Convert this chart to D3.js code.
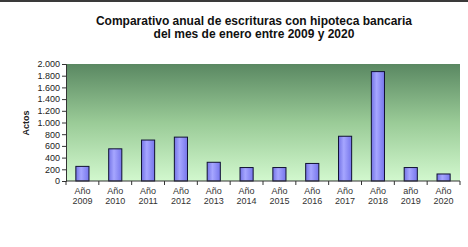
<!DOCTYPE html>
<html><head><meta charset="utf-8">
<script src="https://cdn.jsdelivr.net/npm/d3@7"></script>
<style>html,body{margin:0;padding:0;background:#fff;}svg{display:block;}</style>
</head><body>
<script>
const years = ["2009","2010","2011","2012","2013","2014","2015","2016","2017","2018","2019","2020"];
const prefixes = ["Año","Año","Año","Año","Año","Año","Año","Año","Año","Año","año","Año"];
const values = [250, 550, 700, 750, 320, 230, 230, 300, 765, 1870, 230, 120];
const yTicks = [0,200,400,600,800,1000,1200,1400,1600,1800,2000];
const titleLines = ["Comparativo anual de escrituras con hipoteca bancaria","del mes de enero entre 2009 y 2020"];
const yLabel = "Actos";

const W = 468, H = 247;
const m = {left:66, right:8, top:64, bottom:66};
const svg = d3.select("body").append("svg").attr("width",W).attr("height",H);
const defs = svg.append("defs");
const bg = defs.append("linearGradient").attr("id","bg").attr("x1",0).attr("y1",0).attr("x2",0).attr("y2",1);
bg.append("stop").attr("offset","0%").attr("stop-color","#5a8862");
bg.append("stop").attr("offset","50%").attr("stop-color","#9acb97");
bg.append("stop").attr("offset","100%").attr("stop-color","#d2f8ce");
const bar = defs.append("linearGradient").attr("id","bar").attr("x1",0).attr("y1",0).attr("x2",1).attr("y2",0);
bar.append("stop").attr("offset","0%").attr("stop-color","#7474e6");
bar.append("stop").attr("offset","40%").attr("stop-color","#a6a6ff");
bar.append("stop").attr("offset","100%").attr("stop-color","#7676ec");

svg.append("rect").attr("x",0).attr("y",0).attr("width",W).attr("height",2).attr("fill","#3a3a3a");

const x = d3.scaleBand().domain(years).range([m.left, W-m.right]).paddingInner(0.6).paddingOuter(0.3);
const y = d3.scaleLinear().domain([0,2000]).range([H-m.bottom, m.top]);

svg.append("rect").attr("x",m.left).attr("y",m.top).attr("width",W-m.right-m.left).attr("height",H-m.bottom-m.top).attr("fill","url(#bg)");

svg.selectAll("rect.b").data(values).join("rect").attr("class","b")
  .attr("x",(d,i)=>x(years[i])).attr("width",x.bandwidth())
  .attr("y",d=>y(d)).attr("height",d=>y(0)-y(d))
  .attr("fill","url(#bar)").attr("stroke","#111133").attr("stroke-width",1);

const fmt = d3.formatLocale({decimal:",",thousands:".",grouping:[3],currency:["","€"]}).format(",d");
const ya = svg.append("g").attr("transform",`translate(${m.left},0)`)
  .call(d3.axisLeft(y).tickValues(yTicks).tickFormat(fmt).tickSize(4).tickPadding(2));
ya.selectAll("text").attr("font-family","Liberation Sans, Arial, sans-serif").attr("font-size",9).attr("fill","#222");
ya.selectAll("line,path").attr("stroke","#333");

const bounds = d3.range(years.length+1).map(i => m.left + i*(W-m.right-m.left)/years.length);
const xa = svg.append("g");
xa.append("line").attr("x1",m.left).attr("x2",W-m.right).attr("y1",y(0)).attr("y2",y(0)).attr("stroke","#333");
xa.selectAll("line.t").data(bounds).join("line").attr("class","t")
  .attr("x1",d=>d).attr("x2",d=>d).attr("y1",y(0)).attr("y2",y(0)+4).attr("stroke","#333");
const lab = xa.selectAll("text").data(years).join("text")
  .attr("x",d=>x(d)+x.bandwidth()/2).attr("y",y(0)+13)
  .attr("text-anchor","middle").attr("font-family","Liberation Sans, Arial, sans-serif").attr("font-size",9).attr("fill","#333");
lab.append("tspan").attr("x",d=>x(d)+x.bandwidth()/2).text((d,i)=>prefixes[i]);
lab.append("tspan").attr("x",d=>x(d)+x.bandwidth()/2).attr("dy",10).text(d=>d);

svg.append("text").attr("transform",`translate(29,123) rotate(-90)`).attr("text-anchor","middle")
  .attr("font-family","Liberation Sans, Arial, sans-serif").attr("font-size",9).attr("font-weight","bold").attr("fill","#222").text(yLabel);

svg.selectAll("text.title").data(titleLines).join("text").attr("class","title")
  .attr("x",254).attr("y",(d,i)=>25+i*12.5).attr("text-anchor","middle")
  .attr("font-family","Liberation Sans, Arial, sans-serif").attr("font-size",12).attr("font-weight","bold").attr("fill","#111").text(d=>d);
</script>
</body></html>
